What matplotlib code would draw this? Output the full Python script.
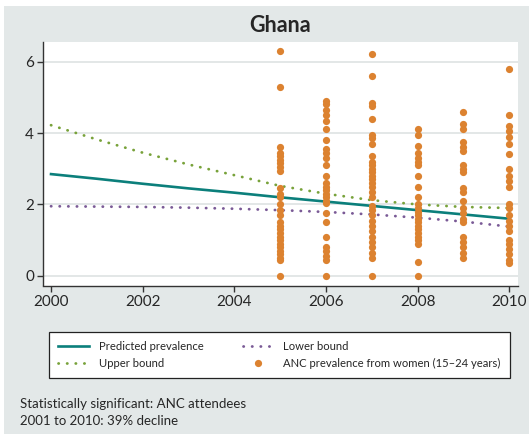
import matplotlib
matplotlib.use("Agg")
import matplotlib.pyplot as plt
from matplotlib.patches import Rectangle

plt.rcParams['font.family'] = ['Lato', 'DejaVu Sans']

# ---------------- data ----------------
title = "Ghana"
years = [2000, 2001, 2002, 2003, 2004, 2005, 2006, 2007, 2008, 2009, 2010]
predicted = [2.85, 2.72, 2.58, 2.45, 2.33, 2.20, 2.08, 1.96, 1.84, 1.72, 1.60]
upper = [4.22, 3.82, 3.45, 3.12, 2.82, 2.52, 2.30, 2.12, 2.00, 1.93, 1.90]
lower = [1.95, 1.94, 1.93, 1.91, 1.88, 1.84, 1.79, 1.72, 1.63, 1.52, 1.38]

anc_2005 = [6.3, 5.3, 3.6, 3.45, 3.35, 3.25, 3.15, 3.05, 2.95, 2.45, 2.3, 2.2, 2.0, 1.85,
            1.7, 1.5, 1.4, 1.3, 1.2, 1.1, 1.0, 0.9, 0.8, 0.7, 0.6, 0.5, 0.45, 0.0]
anc_2006 = [4.9, 4.8, 4.65, 4.5, 4.35, 4.1, 3.8, 3.55, 3.45, 3.3, 3.1, 2.8, 2.6, 2.5, 2.4,
            2.3, 2.2, 2.1, 2.05, 1.75, 1.5, 1.1, 0.8, 0.7, 0.55, 0.45, 0.0]
anc_2007 = [6.2, 5.6, 4.85, 4.75, 4.4, 3.95, 3.85, 3.7, 3.35, 3.2, 3.1, 3.0, 2.9, 2.8, 2.7,
            2.6, 2.5, 2.35, 2.2, 1.95, 1.85, 1.7, 1.55, 1.4, 1.25, 1.1, 0.95, 0.8, 0.65, 0.5, 0.0]
anc_2008 = [4.1, 3.95, 3.65, 3.45, 3.3, 3.2, 3.1, 2.8, 2.5, 2.2, 2.0, 1.9, 1.8, 1.7, 1.6,
            1.5, 1.4, 1.3, 1.2, 1.1, 1.0, 0.9, 0.4, 0.0]
anc_2009 = [4.6, 4.25, 4.1, 3.75, 3.6, 3.5, 3.1, 3.0, 2.9, 2.45, 2.35, 2.1, 1.9, 1.75, 1.6,
            1.5, 1.1, 0.95, 0.8, 0.65, 0.5]
anc_2010 = [5.8, 4.5, 4.2, 4.05, 3.9, 3.7, 3.4, 3.0, 2.8, 2.65, 2.5, 2.0, 1.9, 1.7, 1.55,
            1.4, 1.25, 1.0, 0.9, 0.75, 0.6, 0.45, 0.35]
anc_years = [2005, 2006, 2007, 2008, 2009, 2010]
anc_values = [anc_2005, anc_2006, anc_2007, anc_2008, anc_2009, anc_2010]

xticks = [2000, 2002, 2004, 2006, 2008, 2010]
yticks = [0, 2, 4, 6]
legend_labels = ["Predicted prevalence", "Upper bound", "Lower bound",
                 "ANC prevalence from women (15\u201324 years)"]
footnote = ["Statistically significant: ANC attendees", "2001 to 2010: 39% decline"]

# ---------------- style ----------------
BG = '#e3e8e8'
TEAL = '#0b7f7b'
GREEN = '#78a23a'
PURPLE = '#7a5a96'
ORANGE = '#dc8230'
GRID = '#e1e5e5'
TXT = '#262626'

W, H = 529, 436
fig = plt.figure(figsize=(W / 100, H / 100), dpi=100)
fig.patch.set_facecolor('white')
fig.add_artist(Rectangle((4 / W, 2 / H), 1 - 4 / W, 1 - 8 / H, transform=fig.transFigure,
                         facecolor=BG, edgecolor='none', zorder=0))

ax = fig.add_axes([43 / W, 1 - 285.5 / H, (518 - 43) / W, (285.5 - 42) / H])
ax.set_facecolor('white')

ax.plot(years, predicted, color=TEAL, lw=1.9, zorder=3, label=legend_labels[0])
ax.plot(years, upper, color=GREEN, lw=2.0, linestyle=(0, (0.1, 3.0)),
        dash_capstyle='round', zorder=3, label=legend_labels[1])
ax.plot(years, lower, color=PURPLE, lw=2.0, linestyle=(0, (0.1, 3.0)),
        dash_capstyle='round', zorder=3, label=legend_labels[2])
for i, (yr, vals) in enumerate(zip(anc_years, anc_values)):
    ax.plot([yr] * len(vals), vals, linestyle='none', marker='o', markersize=5.2,
            color=ORANGE, markeredgewidth=0, zorder=4,
            label=legend_labels[3] if i == 0 else None)

ax.set_xlim(1999.825, 2010.19)
ax.set_ylim(-0.27, 6.55)
ax.set_xticks(xticks)
ax.set_yticks(yticks)
ax.set_xticklabels([str(x) for x in xticks])
ax.set_yticklabels([str(y) for y in yticks])
ax.grid(axis='y', color=GRID, lw=1.3, zorder=0)
ax.set_axisbelow(True)
for s in ['top', 'right']:
    ax.spines[s].set_visible(False)
for s in ['left', 'bottom']:
    ax.spines[s].set_color('#333333')
    ax.spines[s].set_linewidth(1.0)
ax.tick_params(axis='both', length=4, width=1.0, color='#333333', labelsize=11,
               labelcolor=TXT, direction='out', pad=2.5)

fig.text(280 / W, 1 - 26 / H, title, ha='center', va='center', fontsize=15.5,
         fontweight='bold', color=TXT)

handles, labels = ax.get_legend_handles_labels()
leg = fig.legend(handles, labels, ncol=2, loc='upper left',
                 bbox_to_anchor=(49 / W, 1 - 332 / H), borderaxespad=0, fontsize=8.1,
                 frameon=True, fancybox=False, edgecolor='#222222', framealpha=1,
                 handlelength=2.75, handletextpad=0.89, columnspacing=3.45,
                 borderpad=0.8, labelspacing=0.5, markerscale=1.0)
leg.get_frame().set_linewidth(0.9)
for t in leg.get_texts():
    t.set_color(TXT)

fig.text(20 / W, 1 - 404 / H, footnote[0], ha='left', va='center', fontsize=9.5, color=TXT)
fig.text(20 / W, 1 - 421 / H, footnote[1], ha='left', va='center', fontsize=9.5, color=TXT)

fig.savefig('out.png', dpi=100)
